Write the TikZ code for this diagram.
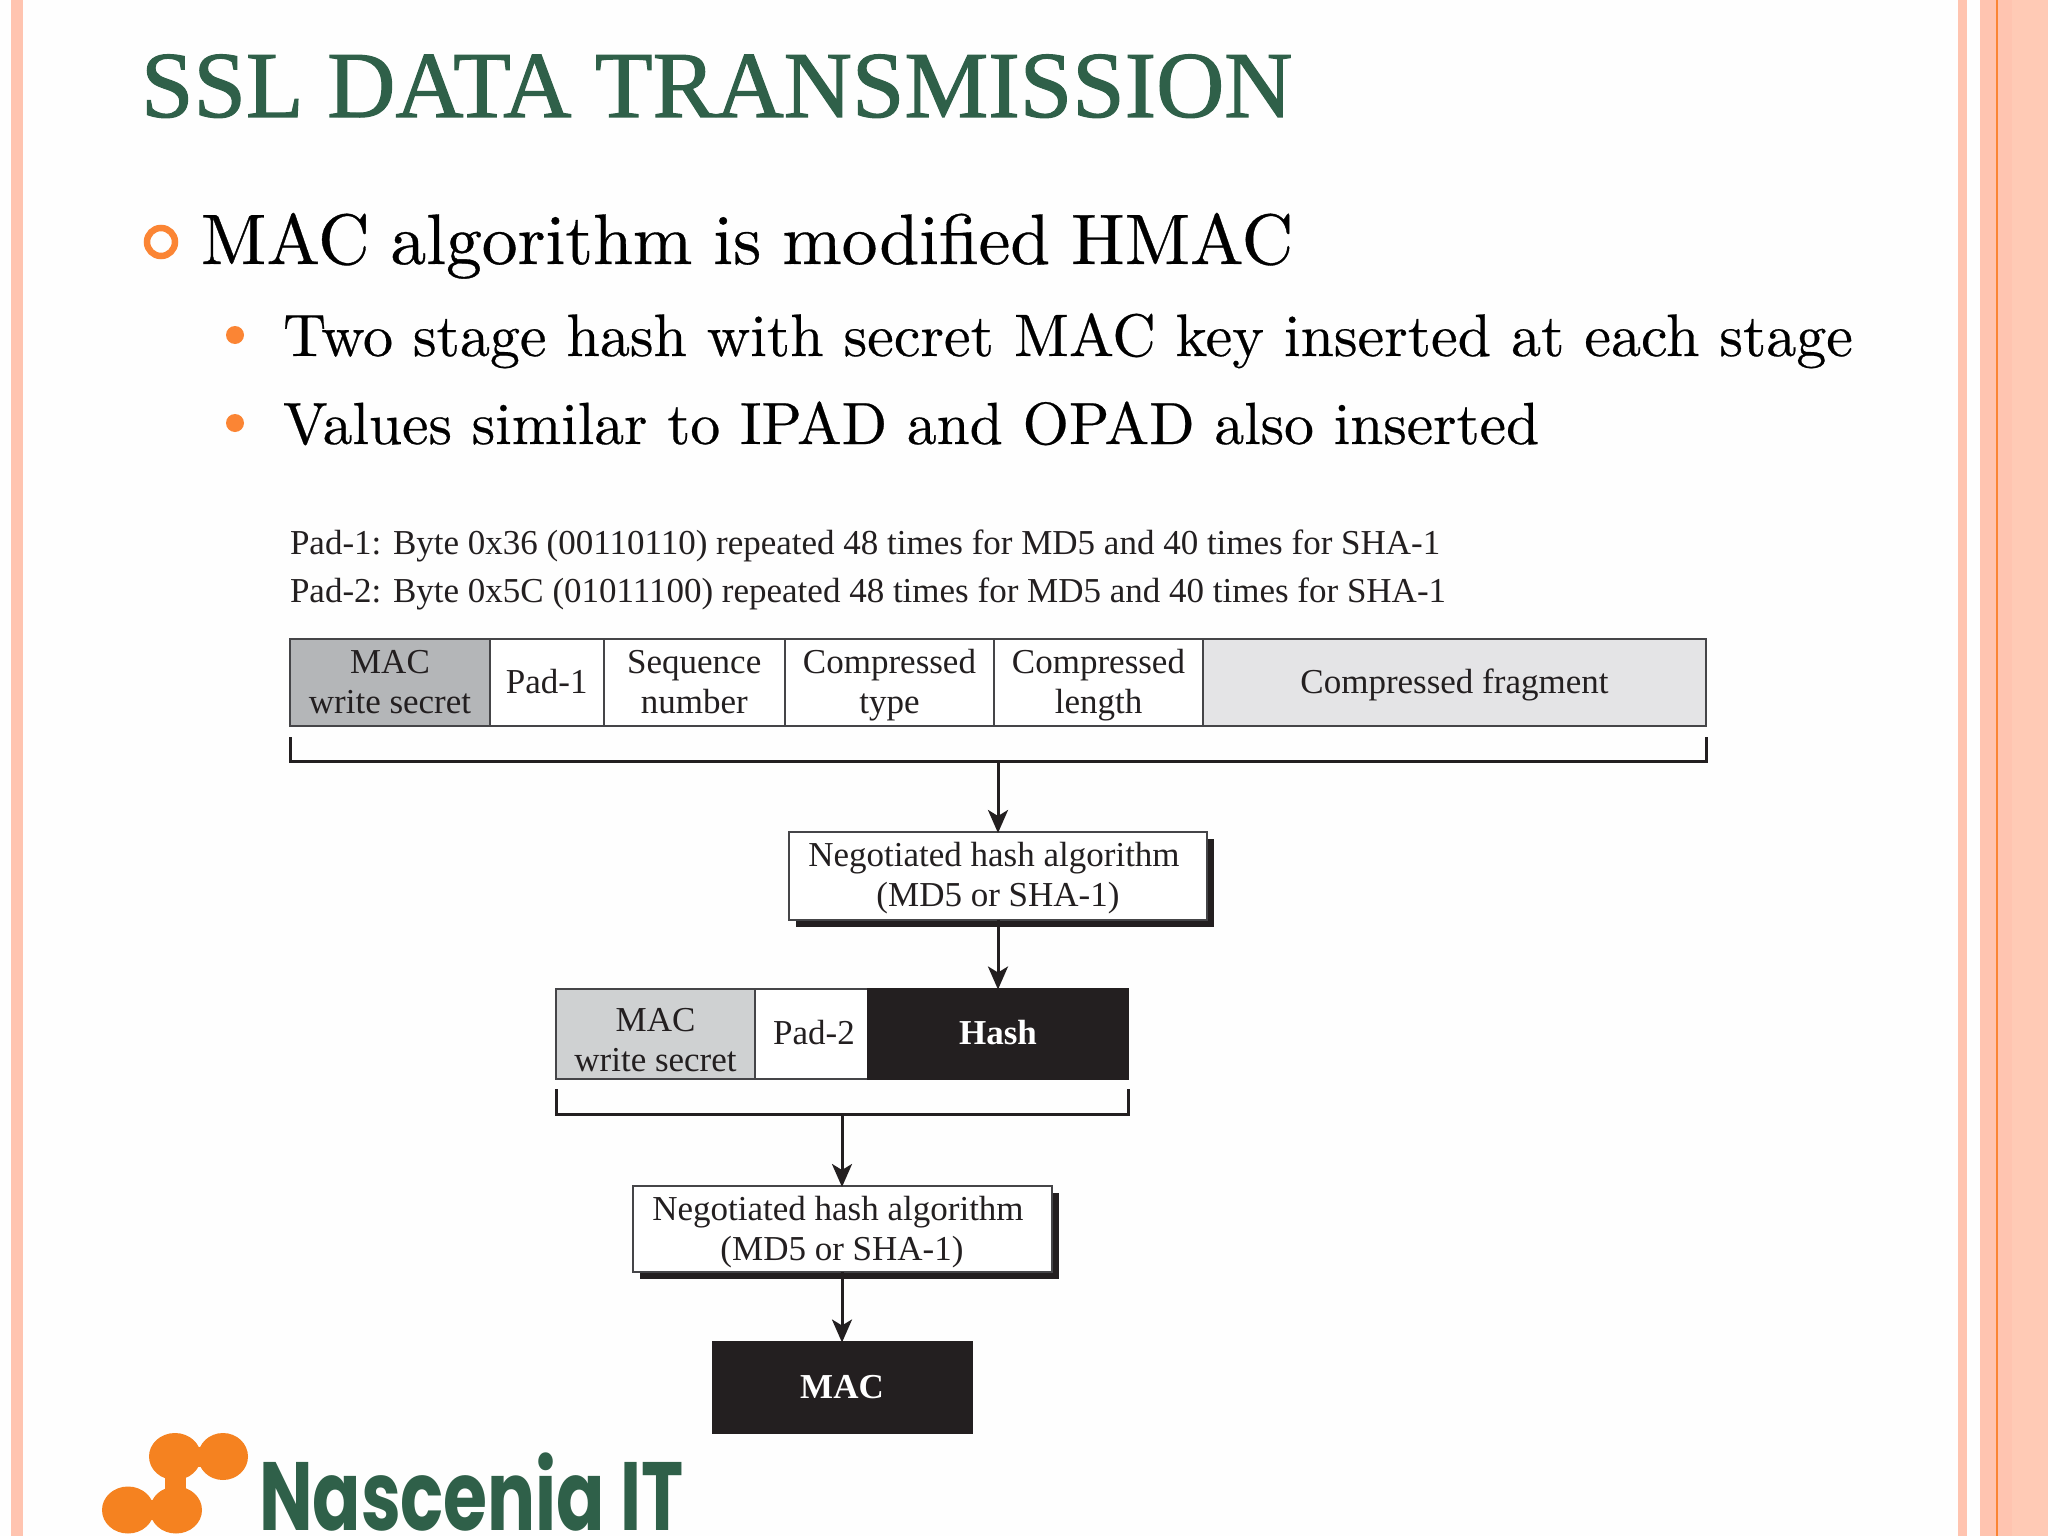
\documentclass[tikz,border=0pt]{standalone}
\usepackage{fontspec}
\usetikzlibrary{arrows.meta,shadows}
\setmainfont{lmroman10-regular}[Extension=.otf]
\newfontfamily\timesf{Liberation Serif}
\newfontfamily\logof[FakeStretch=0.735]{Poppins}
\font\titlefont="Liberation Serif:embolden=1.2" at 94.4pt
\font\bodyA="[lmroman10-regular.otf]:embolden=0.5" at 71.4pt
\font\bodyB="[lmroman10-regular.otf]:embolden=0.4" at 60pt
\font\bodyC="[lmroman10-regular.otf]:embolden=0.4" at 59.5pt
\definecolor{stripe}{HTML}{FFC4B0}
\definecolor{stripeb}{HTML}{FFCAB5}
\definecolor{bulletc}{HTML}{FB8534}
\definecolor{logoc}{HTML}{F58220}
\definecolor{titlec}{HTML}{2F6049}
\definecolor{ink}{HTML}{231F20}
\definecolor{edge}{HTML}{454548}
\definecolor{greya}{HTML}{B4B6B8}
\definecolor{greyb}{HTML}{CFD1D2}
\definecolor{greyc}{HTML}{E4E4E6}
\newcommand\cs{\rule[-9pt]{0pt}{40pt}}
\tikzset{
  cellbox/.style={draw=edge,line width=2pt,inner sep=0pt,outer sep=0pt,anchor=north west,align=center,text=ink,
     font=\timesf\fontsize{35}{40}\selectfont},
  darkbox/.style={cellbox,fill=ink,draw=ink,text=white,font=\timesf\bfseries\fontsize{35}{40}\selectfont},
  algbox/.style={cellbox,fill=white,drop shadow={shadow xshift=7pt,shadow yshift=-7pt,fill=ink,opacity=1}},
  flow/.style={ink,line width=3pt,-{Stealth[length=23pt,width=20pt,inset=6pt]},shorten >=-1pt},
  bracketline/.style={ink,line width=3pt},
  slidetext/.style={anchor=base west,inner sep=0pt,outer sep=0pt,text=black},
}
\begin{document}
\begin{tikzpicture}[x=1pt,y=-1pt]
\useasboundingbox (0,0) rectangle (2048,1536);
\fill[white!99.5!black] (0,0) rectangle (2048,1536);
% slide stripes
\fill[stripe] (11,0) rectangle (23,1536);
\fill[stripe] (1958,0) rectangle (1967,1536);
\fill[stripe] (1980,0) rectangle (2012,1536);
\fill[stripeb] (2012,0) rectangle (2048,1536);
\fill[bulletc] (1995.5,0) rectangle (1997.5,1536);
% headings
\node[slidetext,text=titlec,font=\titlefont] (title) at (141,117) {SSL DATA TRANSMISSION};
\draw[bulletc,line width=6.5pt] (161,242) circle (14);
\node[slidetext,font=\bodyA] (lineA) at (201,264) {\spaceskip=21pt MAC algorithm is modified HMAC};
\fill[bulletc] (235,335) circle (9);
\node[slidetext,font=\bodyB] (lineB) at (283,356) {Two stage hash with secret MAC key inserted at each stage};
\fill[bulletc] (235,423) circle (9);
\node[slidetext,font=\bodyC] (lineC) at (283,444) {Values similar to IPAD and OPAD also inserted};
% pad legend
\node[slidetext,text=ink,font=\timesf\fontsize{35}{35}\selectfont] (padA) at (290,554) {Pad-1: Byte 0x36 (00110110) repeated 48 times for MD5 and 40 times for SHA-1};
\node[slidetext,text=ink,font=\timesf\fontsize{35}{35}\selectfont] (padB) at (290,602) {Pad-2: Byte 0x5C (01011100) repeated 48 times for MD5 and 40 times for SHA-1};
% first row
\node[cellbox,fill=greya,minimum width=200pt,minimum height=87.5pt] (a1) at (290,638.5) {\cs MAC\\\cs write secret};
\node[cellbox,fill=white,minimum width=113.5pt,minimum height=87.5pt] (a2) at (490,638.5) {\cs Pad-1};
\node[cellbox,fill=white,minimum width=181.5pt,minimum height=87.5pt] (a3) at (603.5,638.5) {\cs Sequence\\\cs number};
\node[cellbox,fill=white,minimum width=209pt,minimum height=87.5pt] (a4) at (785,638.5) {\cs Compressed\\\cs type};
\node[cellbox,fill=white,minimum width=209pt,minimum height=87.5pt] (a5) at (994,638.5) {\cs Compressed\\\cs length};
\node[cellbox,fill=greyc,minimum width=503pt,minimum height=87.5pt] (a6) at (1203,638.5) {\cs Compressed fragment};
% first bracket
\coordinate (brA) at (998,761.5);
\draw[bracketline] (290,737) -- (290,761.5) -- (1706,761.5) -- (1706,737);
% first algorithm
\node[algbox,minimum width=418pt,minimum height=87.5pt] (h1) at (789,832) {\cs Negotiated hash algorithm\hspace*{8pt}\\\cs (MD5 or SHA-1)};
\draw[flow] (brA) -- (h1.north);
% second row
\node[cellbox,fill=greyb,minimum width=199pt,minimum height=90.5pt] (b1) at (556,988.5) {\rule{0pt}{43pt}MAC\\\rule[-7.5pt]{0pt}{7.5pt}write secret};
\node[cellbox,fill=white,minimum width=113pt,minimum height=90.5pt] (b2) at (755,988.5) {\cs\hspace{5pt}Pad-2};
\node[darkbox,minimum width=260pt,minimum height=90.5pt] (b3) at (868,988.5) {\cs Hash};
\draw[flow] (h1.south) -- (b3.north);
% second bracket
\coordinate (brB) at (842,1114);
\draw[bracketline] (556,1089) -- (556,1114) -- (1128,1114) -- (1128,1089);
% second algorithm
\node[algbox,minimum width=419pt,minimum height=86pt] (h2) at (632.5,1186) {\cs Negotiated hash algorithm\hspace*{8pt}\\\cs (MD5 or SHA-1)};
\draw[flow] (brB) -- (h2.north);
\node[darkbox,minimum width=259pt,minimum height=91pt] (mac) at (712.5,1341.5) {\cs MAC};
\draw[flow] (h2.south) -- (mac.north);
% logo
\begin{scope}[logoc]
\fill (175,1456.5) ellipse (26 and 23.5);
\fill (223,1456.5) ellipse (25 and 23.5);
\fill (128,1510) ellipse (26 and 23.5);
\fill (176,1510) ellipse (26 and 23.5);
\fill (175,1447) rectangle (223,1467);
\fill (128,1500) rectangle (176,1520);
\fill (165,1456) rectangle (186,1510);
\end{scope}
\node[anchor=base west,inner sep=0pt,outer sep=0pt,text=titlec,font=\logof\bfseries\fontsize{97}{97}\selectfont] (logo) at (259,1530)
  {Nascenia IT};
\end{tikzpicture}
\end{document}
